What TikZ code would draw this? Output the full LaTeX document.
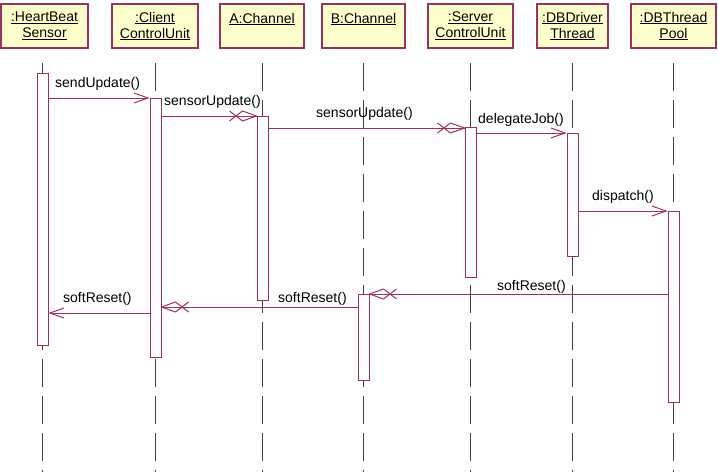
\documentclass[tikz,border=0pt]{standalone}
\usepackage{fontspec}
\setmainfont{Liberation Sans}
\usepackage{xcolor}
\usepackage{tikz}
\usetikzlibrary{arrows.meta, backgrounds}
\definecolor{umlred}{HTML}{9C3060}
\definecolor{umlyellow}{HTML}{FFFFCC}

% open head with a cross behind it
\pgfdeclarearrow{
  name = XBarb,
  parameters = {},
  setup code = {
    \pgfarrowssettipend{0pt}
    \pgfarrowssetlineend{0pt}
    \pgfarrowssetbackend{-27pt}
    \pgfarrowssetvisualbackend{-27pt}
    \pgfarrowshullpoint{0pt}{0pt}
    \pgfarrowshullpoint{-27pt}{5pt}
    \pgfarrowshullpoint{-27pt}{-5pt}
  },
  drawing code = {
    \pgfsetroundjoin
    \pgfpathmoveto{\pgfqpoint{-27pt}{-5pt}}
    \pgfpathlineto{\pgfqpoint{-14pt}{5pt}}
    \pgfpathlineto{\pgfqpoint{0pt}{0pt}}
    \pgfpathlineto{\pgfqpoint{-14pt}{-5pt}}
    \pgfpathlineto{\pgfqpoint{-27pt}{5pt}}
    \pgfusepathqstroke
  }
}

\begin{document}
\begin{tikzpicture}[x=1pt, y=-1pt, font=\fontsize{14}{16}\selectfont,
            head/.style={draw=umlred, line width=1.2pt, fill=umlyellow, minimum height=44pt, align=center, inner sep=0pt},
            bar/.style={draw=umlred, fill=white, line width=1pt, minimum width=11pt, inner sep=0pt},
            lifeline/.style={black!75, line width=1pt, dash pattern=on 28pt off 9pt},
            call/.style={umlred, line width=1pt, -{Straight Barb[length=14pt, width=10pt]}},
            async/.style={umlred, line width=1pt, -{XBarb}},
            lbl/.style={anchor=base west, inner sep=0pt}]
            \useasboundingbox (0,0) rectangle (718,472);

            \node[head, minimum width=87pt] (hb) at (44.5,26) {\underline{:HeartBeat}\\\underline{Sensor}};
            \node[head, minimum width=86pt] (cu) at (155,26) {\underline{:Client}\\\underline{ControlUnit}};
            \node[head, minimum width=84pt] (ac) at (262,26) {\underline{A:Channel}\\\mbox{}};
            \node[head, minimum width=83pt] (bc) at (363.5,26) {\underline{B:Channel}\\\mbox{}};
            \node[head, minimum width=85pt] (sc) at (470.5,26) {\underline{:Server}\\\underline{ControlUnit}};
            \node[head, minimum width=71pt] (dd) at (572.5,26) {\underline{:DBDriver}\\\underline{Thread}};
            \node[head, minimum width=85pt] (dt) at (673.5,26) {\underline{:DBThread}\\\underline{Pool}};

            \node[bar, minimum height=272pt] (hbBar) at (42.5,209) {};
            \node[bar, minimum height=259pt] (cuBar) at (155.5,227.5) {};
            \node[bar, minimum height=184pt] (acBar) at (262.5,208) {};
            \node[bar, minimum height=86pt] (bcBar) at (363.5,337) {};
            \node[bar, minimum height=150pt] (scBar) at (470.5,202) {};
            \node[bar, minimum height=123pt] (ddBar) at (572.5,194.5) {};
            \node[bar, minimum height=191pt] (dtBar) at (673.5,306.5) {};

            \begin{scope}[on background layer]
                \foreach \b in {hbBar, cuBar, acBar, bcBar, scBar, ddBar, dtBar}
                    \draw[lifeline] (\b |- 0,63) -- (\b |- 0,472);
            \end{scope}

            \draw[call] (hbBar.east |- 0,98) -- (cuBar.west |- 0,98);
            \draw[async] (cuBar.east |- 0,116) -- (acBar.west |- 0,116);
            \draw[async] (acBar.east |- 0,128) -- (scBar.west |- 0,128);
            \draw[call] (scBar.east |- 0,133) -- (ddBar.west |- 0,133);
            \draw[call] (ddBar.east |- 0,211) -- (dtBar.west |- 0,211);
            \draw[async] (dtBar.west |- 0,294) -- (bcBar.east |- 0,294);
            \draw[async] (bcBar.west |- 0,307) -- (cuBar.east |- 0,307);
            \draw[call] (cuBar.west |- 0,313) -- (hbBar.east |- 0,313);

            \node[lbl] (lSend) at (55,87) {sendUpdate()};
            \node[lbl] (lSensorA) at (164,105) {sensorUpdate()};
            \node[lbl] (lSensorB) at (316,117) {sensorUpdate()};
            \node[lbl] (lDelegate) at (478,123) {delegateJob()};
            \node[lbl] (lDispatch) at (592,200) {dispatch()};
            \node[lbl] (lResetA) at (497,290) {softReset()};
            \node[lbl] (lResetB) at (278,302) {softReset()};
            \node[lbl] (lResetC) at (63,302) {softReset()};
        \end{tikzpicture}
\end{document}
